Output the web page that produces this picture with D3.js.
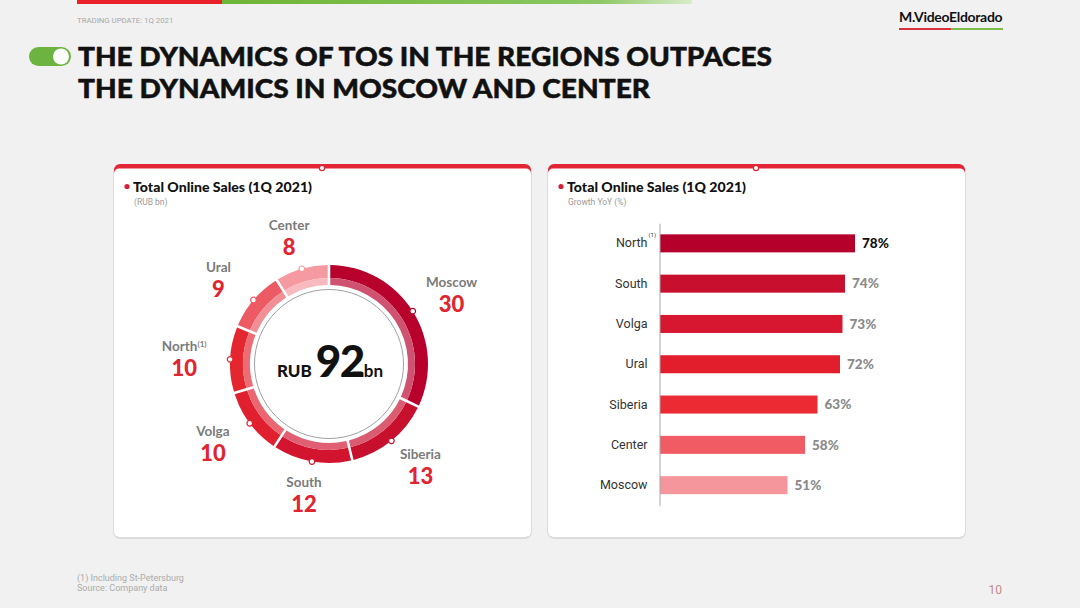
<!DOCTYPE html>
<html>
<head>
<meta charset="utf-8">
<script src="https://cdn.jsdelivr.net/npm/d3@7"></script>
<style>
  html, body { margin: 0; padding: 0; background: #f1f1f1; }
  svg { display: block; }
</style>
</head>
<body>
<div id="chart"></div>
<script>
// donut: online sales by region, RUB bn (clockwise from top)
var salesRegions = ["Moscow", "Siberia", "South", "Volga", "North", "Ural", "Center"];
var salesValues = [30, 13, 12, 10, 10, 9, 8];
var salesTotal = "92";

// bars: growth YoY, %
var growthRegions = ["North", "South", "Volga", "Ural", "Siberia", "Center", "Moscow"];
var growthValues = [78, 74, 73, 72, 63, 58, 51];

var footnoted = "North";

var donutColors = ["#b8002c", "#c70f2e", "#d3142f", "#e0202f", "#e4262f", "#ec5a64", "#f49aa0"];
var barColors = ["#b5002b", "#c90f2e", "#d7162f", "#e21e2c", "#ec2a33", "#f05b64", "#f4969b"];

var svg = d3.select("#chart").append("svg")
    .attr("width", 1080)
    .attr("height", 608);

svg.append("rect").attr("width", 1080).attr("height", 608).attr("fill", "#f1f1f1");

// top stripe
var grad = svg.append("defs").append("linearGradient").attr("id", "greenFade");
grad.append("stop").attr("offset", "0%").attr("stop-color", "#6db536");
grad.append("stop").attr("offset", "80%").attr("stop-color", "#8cc763");
grad.append("stop").attr("offset", "100%").attr("stop-color", "#d8ecc8");
svg.append("rect").attr("x", 77).attr("y", 0).attr("width", 145).attr("height", 4).attr("fill", "#e8202a");
svg.append("rect").attr("x", 222).attr("y", 0).attr("width", 470).attr("height", 4).attr("fill", "url(#greenFade)");

svg.append("text").attr("x", 77).attr("y", 23)
    .attr("font-family", "Roboto, sans-serif").attr("font-size", 7.8).attr("fill", "#a8a8a8")
    .text("TRADING UPDATE: 1Q 2021");

// logo
svg.append("text").attr("x", 899).attr("y", 22)
    .attr("font-family", "Lato, sans-serif").attr("font-weight", 700).attr("font-size", 14)
    .attr("fill", "#111").attr("letter-spacing", -0.3)
    .text("M.VideoEldorado");
svg.append("rect").attr("x", 899).attr("y", 28).attr("width", 52).attr("height", 2).attr("fill", "#d8313e");
svg.append("rect").attr("x", 951).attr("y", 28).attr("width", 52).attr("height", 2).attr("fill", "#7bbf4a");

// toggle + title
svg.append("rect").attr("x", 29).attr("y", 47).attr("width", 42).attr("height", 19).attr("rx", 9.5)
    .attr("fill", "#6cb33f");
svg.append("circle").attr("cx", 61).attr("cy", 56.5).attr("r", 8).attr("fill", "#fff");

var titleLines = ["THE DYNAMICS OF TOS IN THE REGIONS OUTPACES", "THE DYNAMICS IN MOSCOW AND CENTER"];
var titleWidths = [694, 572];
titleLines.forEach(function (t, i) {
    svg.append("text").attr("x", 78).attr("y", 66 + i * 32)
        .attr("font-family", "Lato, sans-serif").attr("font-weight", 900).attr("font-size", 27)
        .attr("fill", "#111").attr("stroke", "#111").attr("stroke-width", 0.5)
        .attr("textLength", titleWidths[i]).attr("lengthAdjust", "spacingAndGlyphs")
        .text(t);
});

// panels
function drawPanel(x0, x1, title, subtitle) {
    var g = svg.append("g");
    g.append("rect").attr("x", x0 - 1).attr("y", 165).attr("width", x1 - x0 + 2).attr("height", 374)
        .attr("rx", 7).attr("fill", "#dcdcdc");
    g.append("rect").attr("x", x0).attr("y", 164).attr("width", x1 - x0).attr("height", 373)
        .attr("rx", 6).attr("fill", "#e32636");
    g.append("rect").attr("x", x0).attr("y", 168.5).attr("width", x1 - x0).attr("height", 368.5)
        .attr("rx", 5).attr("fill", "#fff");
    g.append("circle").attr("cx", (x0 + x1) / 2 - 0.5).attr("cy", 168).attr("r", 2.6)
        .attr("fill", "#fff").attr("stroke", "#e32636").attr("stroke-width", 1.2);
    g.append("circle").attr("cx", x0 + 13).attr("cy", 186.5).attr("r", 2.6).attr("fill", "#d4213a");
    g.append("text").attr("x", x0 + 19).attr("y", 191.5)
        .attr("font-family", "Lato, sans-serif").attr("font-weight", 900).attr("font-size", 14)
        .attr("fill", "#111").attr("textLength", 179).attr("lengthAdjust", "spacingAndGlyphs")
        .text(title);
    g.append("text").attr("x", x0 + 20).attr("y", 205)
        .attr("font-family", "Roboto, sans-serif").attr("font-size", 8.5).attr("fill", "#9a9a9a")
        .text(subtitle);
}
drawPanel(114, 531, "Total Online Sales (1Q 2021)", "(RUB bn)");
drawPanel(548, 965, "Total Online Sales (1Q 2021)", "Growth YoY (%)");

// donut
var cx = 329, cy = 364;
var donut = svg.append("g").attr("transform", "translate(" + cx + "," + cy + ")");

var pie = d3.pie().sort(null).value(function (d) { return d; }).padAngle(0.026);
var slices = pie(salesValues);

var outerArc = d3.arc().innerRadius(86).outerRadius(99).padRadius(99);
var innerArc = d3.arc().innerRadius(79).outerRadius(86).padRadius(99);
var edgeArc = d3.arc().innerRadius(99).outerRadius(99);

// labels sit on an ellipse around the ring, at each slice's mid angle
function labelPos(d) {
    var a = (d.startAngle + d.endAngle) / 2;
    return [145 * Math.sin(a), -132 * Math.cos(a)];
}

donut.append("circle").attr("r", 74.5).attr("fill", "#fff").attr("stroke", "#a0a0a0").attr("stroke-width", 1);

donut.selectAll(".band-out").data(slices).enter().append("path")
    .attr("d", outerArc)
    .attr("fill", function (d, i) { return donutColors[i]; });
donut.selectAll(".band-in").data(slices).enter().append("path")
    .attr("d", innerArc)
    .attr("fill", function (d, i) { return d3.interpolateRgb(donutColors[i], "#fff")(0.32); });

donut.selectAll(".marker").data(slices).enter().append("circle")
    .attr("transform", function (d) { return "translate(" + edgeArc.centroid(d) + ")"; })
    .attr("r", 2.8)
    .attr("fill", "#fff")
    .attr("stroke", function (d, i) { return donutColors[i]; })
    .attr("stroke-width", 1.2);

var labels = donut.selectAll(".lbl").data(slices).enter().append("g")
    .attr("transform", function (d) { return "translate(" + labelPos(d) + ")"; });
var names = labels.append("text")
    .attr("y", -7)
    .attr("text-anchor", "middle")
    .attr("font-family", "Lato, sans-serif").attr("font-weight", 700).attr("font-size", 13.5)
    .attr("fill", "#7b7b7b")
    .text(function (d, i) { return salesRegions[i]; });
names.filter(function (d, i) { return salesRegions[i] === footnoted; })
    .append("tspan").attr("dy", -4).attr("font-size", 8).text("(1)");
labels.append("text")
    .attr("y", 18)
    .attr("text-anchor", "middle")
    .attr("font-family", "Lato, sans-serif").attr("font-weight", 900).attr("font-size", 22)
    .attr("fill", "#e02530")
    .text(function (d) { return d.data; });

var centerText = donut.append("text").attr("x", 1).attr("y", 12.5).attr("text-anchor", "middle")
    .attr("font-family", "Lato, sans-serif").attr("font-weight", 900).attr("fill", "#111");
centerText.append("tspan").attr("font-size", 17).text("RUB ");
centerText.append("tspan").attr("font-size", 44).attr("letter-spacing", -1.5).text(salesTotal);
centerText.append("tspan").attr("font-size", 17).attr("font-weight", 700).text("bn");

// bars
var x = d3.scaleLinear().domain([0, 100]).range([660, 910]);
var y = d3.scaleBand().domain(growthRegions).range([223.2, 505.3]).paddingInner(0.553).paddingOuter(0.2765);

svg.selectAll(".bar").data(growthValues).enter().append("rect")
    .attr("x", x(0))
    .attr("y", function (d, i) { return y(growthRegions[i]); })
    .attr("width", function (d) { return x(d) - x(0); })
    .attr("height", y.bandwidth())
    .attr("fill", function (d, i) { return barColors[i]; });

svg.selectAll(".val").data(growthValues).enter().append("text")
    .attr("x", function (d) { return x(d) + 7; })
    .attr("y", function (d, i) { return y(growthRegions[i]) + y.bandwidth() / 2; })
    .attr("dy", "0.35em")
    .attr("font-family", "Lato, sans-serif").attr("font-weight", 900).attr("font-size", 13.5)
    .attr("fill", function (d, i) { return i === 0 ? "#111" : "#8a8a8a"; })
    .text(function (d) { return d + "%"; });

var axis = svg.append("g").attr("transform", "translate(659.5,0)")
    .call(d3.axisLeft(y).tickSize(0).tickPadding(12));
axis.select(".domain").attr("stroke", "#a8a8a8");
axis.selectAll(".tick text")
    .attr("font-family", "Roboto, sans-serif").attr("font-size", 12.5).attr("fill", "#333");
axis.selectAll(".tick").filter(function (d) { return d === footnoted; })
    .append("text").attr("x", -11).attr("y", -6)
    .attr("text-anchor", "start")
    .attr("font-family", "Roboto, sans-serif").attr("font-size", 6).attr("fill", "#333")
    .text("(1)");

// footer
svg.append("text").attr("x", 77).attr("y", 581)
    .attr("font-family", "Roboto, sans-serif").attr("font-size", 9).attr("fill", "#ababab")
    .text("(1) Including St-Petersburg");
svg.append("text").attr("x", 77).attr("y", 591)
    .attr("font-family", "Roboto, sans-serif").attr("font-size", 9).attr("fill", "#ababab")
    .text("Source: Company data");
svg.append("text").attr("x", 1002).attr("y", 594).attr("text-anchor", "end")
    .attr("font-family", "Roboto, sans-serif").attr("font-size", 12).attr("fill", "#c08a8a")
    .text("10");
</script>
</body>
</html>
